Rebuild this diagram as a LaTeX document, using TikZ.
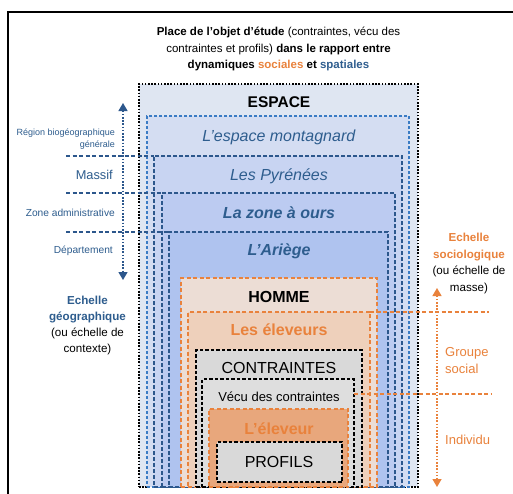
\documentclass[tikz,border=0pt]{standalone}
\usepackage{fontspec}
\setmainfont{Liberation Sans}
\usetikzlibrary{fit,arrows.meta}
\definecolor{dblue}{HTML}{2C578C}
\definecolor{tblue}{HTML}{2E5D8E}
\definecolor{mblue}{HTML}{3A7BC4}
\definecolor{orng}{HTML}{E9823C}
\definecolor{fEsp}{HTML}{DFE6F2}
\definecolor{fMon}{HTML}{D4DDF2}
\definecolor{fPyr}{HTML}{C8D4F2}
\definecolor{fZon}{HTML}{BCCBF1}
\definecolor{fAri}{HTML}{AFC3EF}
\definecolor{fHom}{HTML}{ECDDD5}
\definecolor{fEle}{HTML}{EED0BB}
\definecolor{fCon}{HTML}{D9D9D9}
\definecolor{fVec}{HTML}{DEDEDE}
\definecolor{fLel}{HTML}{E8A77C}
\definecolor{fPro}{HTML}{D9D9D9}
\tikzset{
  bx/.style={rectangle, inner sep=0pt, outer sep=0pt, line width=1.2pt},
  blackdot/.style={bx, draw=black, dash pattern=on 1.6pt off 1.6pt},
  bluedash/.style={bx, draw=mblue, dash pattern=on 3pt off 2pt},
  dbluedash/.style={bx, draw=dblue, dash pattern=on 4pt off 2pt},
  orngdash/.style={bx, draw=orng, dash pattern=on 4pt off 2.5pt},
  blackdash/.style={bx, draw=black, dash pattern=on 3.5pt off 2pt},
  lbl/.style={inner sep=0pt, anchor=center},
  fs/.style={font=\fontsize{#1}{#1}\selectfont},
}
\begin{document}
\begin{tikzpicture}[x=1pt,y=-1pt]
\useasboundingbox (0,0) rectangle (513,493);
\clip (0,0) rectangle (513,493);
\fill[white] (0,0) rectangle (513,493);
% outer frame
\draw[line width=1.6pt] (8,560) -- (8,12) -- (560,12);
% title
\node[lbl, align=center, font=\fontsize{11.5}{16.5}\selectfont] (title) at (278.5,49)
  {\textbf{Place de l’objet d’étude} (contraintes, vécu des\\
   contraintes et profils) \textbf{dans le rapport entre}\\
   \textbf{dynamiques \textcolor{orng}{sociales} et \textcolor{tblue}{spatiales}}};
% nested boxes
\node[blackdot, fill=fEsp, fit={(139,84) (418,487)}] (espace) {};
\node[bluedash, fill=fMon, fit={(147,116) (409,487)}] (mont) {};
\node[dbluedash, fill=fPyr, fit={(154,156) (402,487)}] (pyr) {};
\node[dbluedash, fill=fZon, fit={(162,193) (395,487)}] (zone) {};
\node[dbluedash, fill=fAri, fit={(169,232) (388,487)}] (ariege) {};
\node[orngdash, fill=fHom, fit={(181,278) (377,487)}] (homme) {};
\node[orngdash, fill=fEle, fit={(188,312) (370,487)}] (eleveurs) {};
\node[blackdash, fill=fCon, fit={(196,350) (362,487)}] (contr) {};
\node[blackdash, fill=fVec, fit={(202,379) (354,487)}] (vecu) {};
\node[orngdash, fill=fLel, fit={(209,409) (348,487)}] (leleveur) {};
\node[blackdash, fill=fPro, fit={(217,442) (342,482)}] (profils) {};
% box labels
\node[lbl, fs=15.5] (tEsp) at (279,102) {\textbf{ESPACE}};
\node[lbl, fs=16, text=tblue] (tMon) at (279,137) {\textit{L’espace montagnard}};
\node[lbl, fs=16, text=tblue] (tPyr) at (279,176) {\textit{Les Pyrénées}};
\node[lbl, fs=16, text=tblue] (tZon) at (279,213) {\textbf{\textit{La zone à ours}}};
\node[lbl, fs=16, text=tblue] (tAri) at (279,251) {\textbf{\textit{L’Ariège}}};
\node[lbl, fs=16] (tHom) at (279,297) {\textbf{HOMME}};
\node[lbl, fs=16, text=orng] (tEle) at (279,330) {\textbf{Les éleveurs}};
\node[lbl, fs=16] (tCon) at (279,368) {CONTRAINTES};
\node[lbl, fs=13] (tVec) at (279,397) {Vécu des contraintes};
\node[lbl, fs=16, text=orng] (tLel) at (279,429) {\textbf{L’éleveur}};
\node[lbl, fs=16] (tPro) at (279,462) {PROFILS};
% left scale
\coordinate (lA) at (123,103);
\coordinate (lB) at (123,280);
\draw[dblue, line width=1.3pt, dash pattern=on 1.6pt off 1.6pt,
  {Triangle[width=9pt,length=8pt]}-{Triangle[width=9pt,length=8pt]}] (lA) -- (lB);
\coordinate (h1) at (66,156);
\coordinate (h2) at (66,193);
\coordinate (h3) at (66,232);
\draw[dblue, line width=1.2pt, dash pattern=on 4pt off 2.5pt] (h1) -- (pyr.north west);
\draw[dblue, line width=1.2pt, dash pattern=on 4pt off 2.5pt] (h2) -- (zone.north west);
\draw[dblue, line width=1.2pt, dash pattern=on 4pt off 2.5pt] (h3) -- (ariege.north west);
\node[lbl, anchor=east, align=right, text=tblue, font=\fontsize{9}{12}\selectfont] (lReg) at (115,139)
  {Région biogéographique\\générale};
\node[lbl, anchor=east, text=tblue, fs=12.8] (lMas) at (113,174.5) {Massif};
\node[lbl, anchor=east, text=tblue, fs=10.2] (lZon) at (115,212.5) {Zone administrative};
\node[lbl, anchor=east, text=tblue, fs=10.2] (lDep) at (113,251) {Département};
\node[lbl, align=center, font=\fontsize{11.6}{16.3}\selectfont] (lEch) at (87.5,325.5)
  {\textcolor{tblue}{\textbf{Echelle}}\\\textcolor{tblue}{\textbf{géographique}}\\(ou échelle de\\contexte)};
% right scale
\coordinate (rA) at (437,288);
\coordinate (rB) at (437,487);
\draw[orng, line width=1.3pt, dash pattern=on 1.6pt off 1.6pt,
  {Triangle[width=9pt,length=8pt]}-{Triangle[width=9pt,length=8pt]}] (rA) -- (rB);
\coordinate (o1) at (489,312);
\coordinate (o2s) at (354,394);
\coordinate (o2) at (491,394);
\draw[orng, line width=1.2pt, dash pattern=on 4pt off 2.5pt] (eleveurs.north east) -- (o1);
\draw[orng, line width=1.2pt, dash pattern=on 4pt off 2.5pt] (o2s) -- (o2);
\node[lbl, align=center, font=\fontsize{11.6}{16.4}\selectfont] (rEch) at (469,263.5)
  {\textcolor{orng}{\textbf{Echelle}}\\\textcolor{orng}{\textbf{sociologique}}\\(ou échelle de\\masse)};
\node[lbl, anchor=west, align=left, text=orng, font=\fontsize{13}{17}\selectfont] (rGrp) at (445,360.5)
  {Groupe\\social};
\node[lbl, anchor=west, text=orng, fs=13] (rInd) at (445,440) {Individu};
\end{tikzpicture}
\end{document}
